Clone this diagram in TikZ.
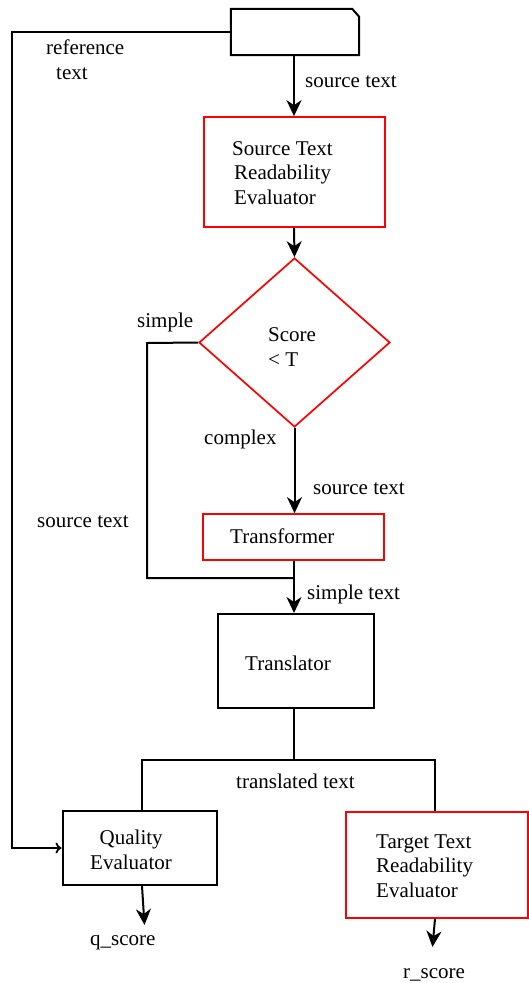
\documentclass[tikz,border=0pt]{standalone}
\usepackage{fontspec}
\setmainfont{Liberation Serif}
\usetikzlibrary{arrows.meta,shapes.geometric}
\begin{document}
\begin{tikzpicture}[x=1pt,y=-1pt,
  every node/.style={font=\fontsize{21}{24.5}\selectfont},
  redbox/.style={draw=red,line width=1.7pt,inner sep=0pt},
  blackbox/.style={draw=black,line width=2pt,inner sep=0pt},
  txt/.style={anchor=base west,inner sep=0pt,align=left},
  conn/.style={line width=2pt,-{Stealth[length=16pt,width=15pt,inset=5pt]}},
  plain/.style={line width=2pt}]
\useasboundingbox (0,0) rectangle (529,983);
% nodes
\node[minimum width=128pt,minimum height=46pt,inner sep=0pt] (doc) at (295,32) {};
\draw[line width=2pt] (doc.south west) -- (doc.north west) -- ([xshift=-7pt]doc.north east) -- ([yshift=-8pt]doc.north east) -- (doc.south east) -- cycle;
\node[redbox,minimum width=181pt,minimum height=110pt] (src) at (294.5,172) {};
\node[txt] (srct) at (232,204) {Source Text\\\hspace*{2pt}Readability\\\hspace*{2pt}Evaluator};
\node[draw=red,line width=1.7pt,shape=diamond,minimum width=191pt,minimum height=169pt,inner sep=0pt] (dia) at (294.5,342.5) {};
\node[txt] (diat) at (268,366) {Score\\< T};
\node[redbox,minimum width=181pt,minimum height=46pt] (trans) at (293.5,537) {};
\node[txt] (transt) at (230,543) {Transformer};
\node[blackbox,minimum width=156pt,minimum height=94pt] (tl) at (296,661) {};
\node[txt] (tlt) at (245,670) {Translator};
\node[blackbox,minimum width=154pt,minimum height=74pt] (qual) at (139.5,848) {};
\node[txt] (qualt) at (90,869) {\hspace*{9.5pt}Quality\\Evaluator};
\node[redbox,minimum width=182pt,minimum height=106pt] (tgt) at (437,865) {};
\node[txt] (tgtt) at (376,897) {Target Text\\Readability\\Evaluator};
% coordinates
\coordinate (join) at (294,578);
\coordinate (split) at (294,760);
\coordinate (loopc) at (147,343);
\coordinate (refc) at (12,32);
\coordinate (qend) at (144.5,925);
\coordinate (rend) at (432.5,947);
% connectors
\draw[conn] (doc.south -| 294,0) -- (src.north -| 294,0);
\draw[conn] (src.south -| 294,0) -- (dia.north);
\draw[conn] (dia.south) -- (trans.north -| dia.south);
\draw[plain] (dia.west) -- (loopc) |- (join);
\draw[plain] (trans.south -| join) -- (join);
\draw[conn] (join) -- (tl.north -| join);
\draw[line width=1.8pt,-{To[length=6pt,width=11pt]}] (doc.west) -- (refc) |- (qual.west);
\draw[plain] (tl.south -| split) -- (split);
\draw[plain] ([xshift=2.5pt]qual.north) |- (split) -| ([xshift=-2pt]tgt.north);
\draw[conn] ([xshift=2.5pt]qual.south) -- (qend);
\draw[conn] ([xshift=-2pt]tgt.south) -- (rend);
% labels
\node[txt] (lref) at (46,79) {reference\\\hspace*{10pt}text};
\node[txt] (lsrc1) at (305,87) {source text};
\node[txt] (lsimple) at (137,327) {simple};
\node[txt] (lcomplex) at (204,444) {complex};
\node[txt] (lsrc2) at (313,494) {source text};
\node[txt] (lsrc3) at (37,527) {source text};
\node[txt] (lsimpletext) at (307,599) {simple text};
\node[txt] (ltrans) at (236,788) {translated text};
\node[txt] (lq) at (90,945) {q\_score};
\node[txt] (lr) at (403,978) {r\_score};
\end{tikzpicture}
\end{document}
